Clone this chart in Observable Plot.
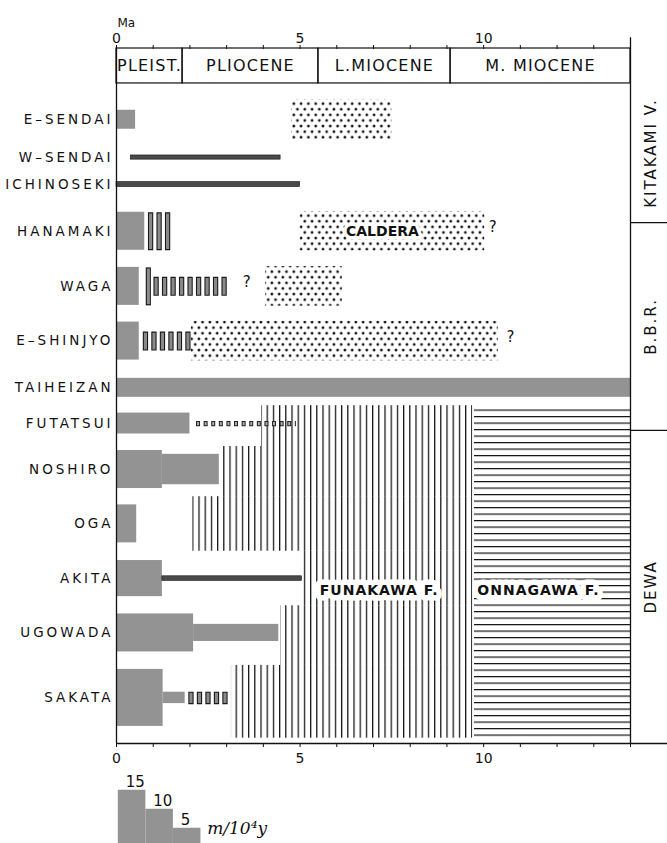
<!DOCTYPE html>
<html><head><meta charset="utf-8">
<script src="https://cdn.jsdelivr.net/npm/d3@7"></script>
<script src="https://cdn.jsdelivr.net/npm/@observablehq/plot@0.6"></script>
<style>
html,body{margin:0;padding:0;background:#fff;}
#chart svg{display:block;}
</style>
</head><body><div id="chart"></div>
<script>
// ---------------- data (ages in Ma, rates in m/10^4 y) ----------------
const localities = ["E-SENDAI","W-SENDAI","ICHINOSEKI","HANAMAKI","WAGA","E-SHINJYO","TAIHEIZAN","FUTATSUI","NOSHIRO","OGA","AKITA","UGOWADA","SAKATA"];
const localityLabels = ["E–SENDAI","W–SENDAI","ICHINOSEKI","HANAMAKI","WAGA","E–SHINJYO","TAIHEIZAN","FUTATSUI","NOSHIRO","OGA","AKITA","UGOWADA","SAKATA"];

const epochNames = ["PLEIST.","PLIOCENE","L.MIOCENE","M. MIOCENE"];
const epochBounds = [0, 1.8, 5.5, 9.1, 14];

// uplift-rate bars (grey)
const rateRow   = ["E-SENDAI","HANAMAKI","WAGA","E-SHINJYO","TAIHEIZAN","FUTATSUI","NOSHIRO","NOSHIRO","OGA","AKITA","UGOWADA","UGOWADA","SAKATA","SAKATA"];
const rateFrom  = [0,   0,    0,    0,    0,  0,   0,    1.25, 0,    0,    0,   2.1,  0,    1.27];
const rateTo    = [0.52,0.77, 0.62, 0.62, 14, 2.0, 1.25, 2.8,  0.55, 1.25, 2.1, 4.42, 1.27, 1.87];
const rateValue = [5,   10,   10,   10,   5,  5.5, 10,   8,    10,   9.5,  10,  4.5,  15,   3];

// thin (low-rate) bars
const thinRow   = ["W-SENDAI","ICHINOSEKI","AKITA"];
const thinFrom  = [0.39, 0, 1.25];
const thinTo    = [4.47, 5.0, 5.05];
const thinValue = [1.1, 1.3, 1.2];

// uncertain (hatched boxes) intervals
const uncRow   = ["HANAMAKI","WAGA","WAGA","E-SHINJYO","SAKATA"];
const uncFrom  = [0.87, 0.81, 1.02, 0.73, 1.97];
const uncTo    = [1.51, 0.95, 3.1,  2.03, 3.04];
const uncValue = [10,   10,   5,    5,    3.3];

// uncertain thin interval (FUTATSUI)
const dashRow = ["FUTATSUI"];
const dashFrom = [2.18];
const dashTo = [4.9];
const dashValue = [1.4];

// caldera deposits (stippled)
const calderaRow  = ["E-SENDAI","HANAMAKI","WAGA","E-SHINJYO"];
const calderaFrom = [4.77, 5.0, 4.06, 2.04];
const calderaTo   = [7.5, 10.03, 6.15, 10.4];

// query marks
const queryRow = ["HANAMAKI","WAGA","E-SHINJYO"];
const queryAt  = [10.25, 3.55, 10.73];

// formations in the Dewa region
const dewaRows     = ["FUTATSUI","NOSHIRO","OGA","AKITA","UGOWADA","SAKATA"];
const funakawaFrom = [3.95, 2.88, 2.08, 5.1, 4.47, 3.13];
const funakawaTo   = 9.7;
const onnagawaFrom = 9.75;
const onnagawaTo   = 14;

// regions (right panel)
const regionNames = ["KITAKAMI V.","B.B.R.","DEWA"];

// legend
const legendRates = [15, 10, 5];
const legendUnit = "m/10⁴y";

// ---------------- layout ----------------
const W = 667, H = 843;
const mt = 48, mb = 100, ml = 116, mr = 37;
const yTop = -9.2, yBottom = 173.7;            // vertical axis in m/10^4 y units
const pxPerUnit = (H - mt - mb) / (yBottom - yTop);
const rowCentre = [9.55, 19.5, 26.6, 38.9, 53.4, 67.8, 80.1, 89.5, 101.6, 115.9, 130.3, 144.6, 161.7];
const regionEdges = [0, 36.6, 91.3, yBottom];
const formationBottom = 172.3;
const calderaHalf = 5.2;
const legendBase = 201, legendStep = 0.75, legendStart = 0.05;
const panelRight = 15.2;

const rowY = new Map(localities.map((n, i) => [n, rowCentre[i]]));
const gray = "#939393";

const epochs = epochNames.map((name, i) => ({name, x1: epochBounds[i], x2: epochBounds[i + 1]}));
const rates = rateRow.map((row, i) => ({row, x1: rateFrom[i], x2: rateTo[i], rate: rateValue[i]}));
const thins = thinRow.map((row, i) => ({row, x1: thinFrom[i], x2: thinTo[i], rate: thinValue[i]}));
const uncs = uncRow.map((row, i) => ({row, x1: uncFrom[i], x2: uncTo[i], rate: uncValue[i]}));
const dashes = dashRow.map((row, i) => ({row, x1: dashFrom[i], x2: dashTo[i], rate: dashValue[i]}));
const calderas = calderaRow.map((row, i) => ({row, x1: calderaFrom[i], x2: calderaTo[i]}));
const queries = queryRow.map((row, i) => ({row, x: queryAt[i]}));
const labels = localities.map((row, i) => ({row, text: localityLabels[i]}));

const funakawa = dewaRows.map((row, i) => {
  const k = localities.indexOf(row);
  const c = rowCentre[k];
  const top = (rowCentre[k - 1] + c) / 2;
  const bottom = k + 1 < localities.length ? (c + rowCentre[k + 1]) / 2 : formationBottom;
  return {row, x1: funakawaFrom[i], x2: funakawaTo, y1: top, y2: bottom};
});
const onnagawa = [{x1: onnagawaFrom, x2: onnagawaTo, y1: funakawa[0].y1, y2: formationBottom}];

const regions = regionNames.map((name, i) => ({name, y1: regionEdges[i], y2: regionEdges[i + 1]}));
const legend = legendRates.map((rate, i) => ({rate, x1: legendStart + i * legendStep, x2: legendStart + (i + 1) * legendStep}));

const tickFmt = d => (d % 5 === 0 ? String(d) : "");

const svg = Plot.plot({
  width: W, height: H,
  marginTop: mt, marginBottom: mb, marginLeft: ml, marginRight: mr,
  style: {fontFamily: "'DejaVu Sans', sans-serif", fontSize: "12px", background: "#fff", color: "#111", overflow: "visible"},
  x: {domain: [0, 14], axis: null},
  y: {domain: [yTop, yBottom], reverse: true, axis: null},
  marks: [
    // formations
    Plot.rect(funakawa, {x1: "x1", x2: "x2", y1: "y1", y2: "y2", fill: "url(#vlines)"}),
    Plot.rect(onnagawa, {x1: "x1", x2: "x2", y1: "y1", y2: "y2", fill: "url(#hlines)"}),
    // calderas
    Plot.rect(calderas, {x1: "x1", x2: "x2", y1: d => rowY.get(d.row) - calderaHalf, y2: d => rowY.get(d.row) + calderaHalf, fill: "url(#stipple)"}),
    // rate bars
    Plot.rect(rates, {x1: "x1", x2: "x2", y1: d => rowY.get(d.row) - d.rate / 2, y2: d => rowY.get(d.row) + d.rate / 2, fill: gray}),
    Plot.rect(thins, {x1: "x1", x2: "x2", y1: d => rowY.get(d.row) - d.rate / 2, y2: d => rowY.get(d.row) + d.rate / 2, fill: "#4a4a4a", stroke: "#111", strokeWidth: 0.6}),
    // uncertain boxes
    Plot.ruleY(uncs, {x1: "x1", x2: "x2", y: d => rowY.get(d.row), strokeWidth: d => d.rate * pxPerUnit, stroke: "#1a1a1a", strokeDasharray: "5.3,3.2"}),
    Plot.ruleY(uncs, {x1: "x1", x2: "x2", y: d => rowY.get(d.row), strokeWidth: d => d.rate * pxPerUnit - 2.4, stroke: "#8a8a8a", strokeDasharray: "3.1,5.4", strokeDashoffset: -1.1}),
    Plot.ruleY(dashes, {x1: "x1", x2: "x2", y: d => rowY.get(d.row), strokeWidth: d => d.rate * pxPerUnit, stroke: "#222", strokeDasharray: "4,3.6"}),
    Plot.ruleY(dashes, {x1: "x1", x2: "x2", y: d => rowY.get(d.row), strokeWidth: d => d.rate * pxPerUnit - 2, stroke: "#aaa", strokeDasharray: "2,5.6", strokeDashoffset: -1}),
    // query marks
    Plot.text(queries, {x: "x", y: d => rowY.get(d.row), text: () => "?", fontSize: 15, dy: -4}),
    // labels in the body
    Plot.text(calderas.filter(d => d.row === "HANAMAKI"), {x: d => (d.x1 + d.x2) / 2, y: d => rowY.get(d.row), text: () => "CALDERA", dx: -10, fontSize: 14, fontWeight: "bold", fill: "#111", stroke: "#fff", strokeWidth: 7, strokeLinejoin: "round", paintOrder: "stroke"}),
    Plot.text(funakawa.filter(d => d.row === "AKITA"), {x: d => (d.x1 + d.x2) / 2, y: d => rowY.get(d.row), text: () => "FUNAKAWA F.", dx: -9, dy: 12, fontSize: 14, fontWeight: "bold", fill: "#111", stroke: "#fff", strokeWidth: 11, strokeLinejoin: "round", paintOrder: "stroke", ariaDescription: "formation-labels"}),
    Plot.text(onnagawa, {x: d => (d.x1 + d.x2) / 2, y: rowY.get("AKITA"), text: () => "ONNAGAWA F.", dx: -14, dy: 12, fontSize: 14, fontWeight: "bold", fill: "#111", stroke: "#fff", strokeWidth: 11, strokeLinejoin: "round", paintOrder: "stroke", ariaDescription: "formation-labels"}),
    // frame lines
    Plot.ruleX([0], {y1: yTop, y2: yBottom, stroke: "#111", strokeWidth: 1.3}),
    Plot.ruleX([14], {y1: yTop - 2.8, y2: yBottom, stroke: "#111", strokeWidth: 1.3}),
    Plot.ruleY([yBottom], {x1: 0, x2: panelRight, stroke: "#111", strokeWidth: 1.3}),
    // header: epochs
    Plot.rect(epochs, {x1: "x1", x2: "x2", y1: yTop, y2: 0, stroke: "#111", strokeWidth: 1.2, fill: "none"}),
    Plot.text(epochs, {x: d => (d.x1 + d.x2) / 2, y: yTop / 2, text: "name", fontSize: 16, ariaDescription: "epoch-labels"}),
    // axes
    Plot.axisX({anchor: "top", ticks: d3.range(0, 14), tickSize: 4, tickPadding: 2, tickFormat: tickFmt, fontSize: 14, label: null}),
    Plot.axisX({anchor: "bottom", ticks: d3.range(0, 15), tickSize: 4, tickPadding: 6, tickFormat: tickFmt, fontSize: 14, label: null}),
    Plot.text(["Ma"], {frameAnchor: "top-left", text: d => d, dx: 1, dy: -30, fontSize: 12}),
    // row labels
    Plot.text(labels, {x: 0, y: d => rowY.get(d.row), text: "text", textAnchor: "end", dx: -3, fontSize: 13.5, ariaDescription: "row-labels"}),
    // right panel
    Plot.ruleY(regionEdges.slice(1, -1), {x1: 14, x2: panelRight, stroke: "#111", strokeWidth: 1.2}),
    Plot.text(regions, {x: (14 + 15.1) / 2, y: d => (d.y1 + d.y2) / 2, text: "name", rotate: -90, fontSize: 15, ariaDescription: "region-labels"}),
    // legend
    Plot.rect(legend, {x1: "x1", x2: "x2", y1: d => legendBase - d.rate, y2: legendBase, fill: gray}),
    Plot.text(legend, {x: d => d.x1 + 0.2, y: d => legendBase - d.rate, text: d => String(d.rate), textAnchor: "start", lineAnchor: "bottom", dy: -3, fontSize: 15, fontFamily: "'DejaVu Sans', sans-serif"}),
    Plot.text([legendUnit], {x: legendStart + legendRates.length * legendStep + 0.17, y: legendBase - legendRates[legendRates.length - 1], text: d => d, textAnchor: "start", lineAnchor: "bottom", dy: 6, fontSize: 17, fontStyle: "italic", fontFamily: "'DejaVu Serif', serif"})
  ]
});

// patterns
const s = d3.select(svg);
const defs = s.insert("defs", ":first-child");
const st = defs.append("pattern").attr("id", "stipple").attr("patternUnits", "userSpaceOnUse").attr("width", 7.3).attr("height", 11.2);
st.append("circle").attr("cx", 1.8).attr("cy", 2.8).attr("r", 1.4).attr("fill", "#111");
st.append("circle").attr("cx", 5.45).attr("cy", 8.4).attr("r", 1.4).attr("fill", "#111");
const vl = defs.append("pattern").attr("id", "vlines").attr("patternUnits", "userSpaceOnUse").attr("width", 6.2).attr("height", 10);
vl.append("rect").attr("x", 0).attr("y", 0).attr("width", 1.25).attr("height", 10).attr("fill", "#111");
const hl = defs.append("pattern").attr("id", "hlines").attr("patternUnits", "userSpaceOnUse").attr("width", 10).attr("height", 6.5);
hl.append("rect").attr("x", 0).attr("y", 0).attr("width", 10).attr("height", 1.2).attr("fill", "#111");

s.selectAll('g[aria-description="row-labels"] text').attr("letter-spacing", "3");
s.selectAll('g[aria-description="epoch-labels"] text').attr("letter-spacing", "1.2");
s.selectAll('g[aria-description="region-labels"] text').attr("letter-spacing", "2");
s.selectAll('g[aria-description="formation-labels"] text').attr("letter-spacing", "1");

document.getElementById("chart").appendChild(svg);
</script>
</body></html>
